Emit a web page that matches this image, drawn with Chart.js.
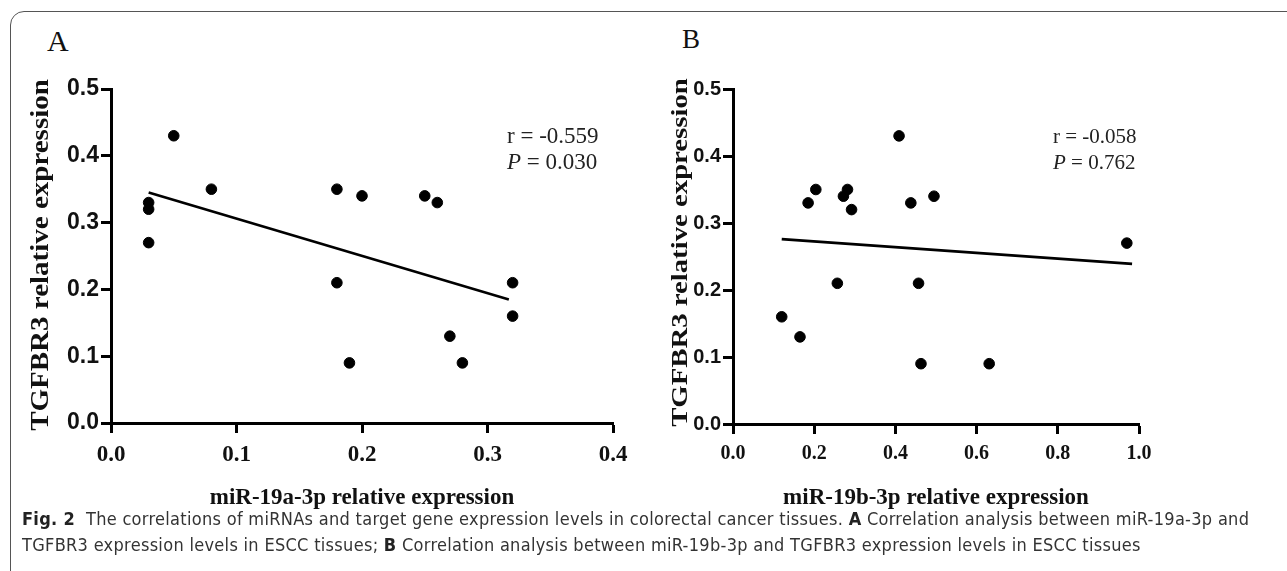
<!DOCTYPE html>
<html lang="en">
<head>
  <meta charset="UTF-8">
  <title>Fig. 2 correlations</title>
  <script src="https://cdn.jsdelivr.net/npm/chart.js"></script>
  <style>
    body { margin: 0; background: #fff; width: 1287px; height: 571px; overflow: hidden; position: relative; }
    .frame { position: absolute; left: 10px; top: 11px; right: -30px; bottom: -30px; border: 1.5px solid #555; border-radius: 14px; }
    .panel { position: absolute; top: 0; height: 512px; }
    .letter { position: absolute; font-family: "Liberation Serif", serif; color: #111; }
    .caption { position: absolute; left: 22px; top: 506px; font-family: "Liberation Sans Narrow", "DejaVu Sans Condensed", sans-serif; font-size: 18px; letter-spacing: 0.3px; line-height: 26px; color: #333; white-space: nowrap; }
    .caption b { color: #222; }
  </style>
</head>
<body>
  <div class="frame"></div>
  <div class="letter" style="left:47px; top:24px; font-size:30px;">A</div>
  <div class="letter" style="left:682px; top:24px; font-size:27px;">B</div>
  <div class="panel" style="left:0; width:640px;"><canvas id="chartA"></canvas></div>
  <div class="panel" style="left:640px; width:647px;"><canvas id="chartB"></canvas></div>
  <div class="caption">
    <b>Fig. 2</b>&nbsp; The correlations of miRNAs and target gene expression levels in colorectal cancer tissues. <b>A</b> Correlation analysis between miR-19a-3p and<br>
    TGFBR3 expression levels in ESCC tissues; <b>B</b> Correlation analysis between miR-19b-3p and TGFBR3 expression levels in ESCC tissues
  </div>

  <script>
    // panel A: miR-19a-3p vs TGFBR3
    const mirA = [0.03, 0.03, 0.03, 0.05, 0.08, 0.18, 0.18, 0.19, 0.20, 0.25, 0.26, 0.27, 0.28, 0.32, 0.32];
    const tgfA = [0.33, 0.32, 0.27, 0.43, 0.35, 0.35, 0.21, 0.09, 0.34, 0.34, 0.33, 0.13, 0.09, 0.21, 0.16];
    const fitAx = [0.03, 0.317];
    const fitAy = [0.345, 0.185];
    const statsA = ['-0.559', '0.030'];

    // panel B: miR-19b-3p vs TGFBR3
    const mirB = [0.12, 0.165, 0.185, 0.204, 0.257, 0.272, 0.282, 0.292, 0.409, 0.438, 0.457, 0.463, 0.495, 0.631, 0.97];
    const tgfB = [0.16, 0.13, 0.33, 0.35, 0.21, 0.34, 0.35, 0.32, 0.43, 0.33, 0.21, 0.09, 0.34, 0.09, 0.27];
    const fitBx = [0.12, 0.983];
    const fitBy = [0.276, 0.239];
    const statsB = ['-0.058', '0.762'];

    const yTicks = [0, 0.1, 0.2, 0.3, 0.4, 0.5];
    const yTitle = 'TGFBR3 relative expression';

    // r / P annotation in the upper right
    const statsText = {
      id: 'statsText',
      afterDraw(chart, args, opts) {
        const ctx = chart.ctx;
        ctx.save();
        ctx.fillStyle = '#222';
        ctx.textBaseline = 'middle';
        ctx.textAlign = 'left';
        const f = opts.size + 'px "Liberation Serif", serif';
        ctx.font = f;
        ctx.fillText('r = ' + opts.r, opts.x, opts.y);
        ctx.font = 'italic ' + f;
        ctx.fillText('P', opts.x, opts.y + opts.gap);
        const w = ctx.measureText('P').width;
        ctx.font = f;
        ctx.fillText(' = ' + opts.p, opts.x + w, opts.y + opts.gap);
        ctx.restore();
      }
    };

    // y title, stretched along its baseline like the original figure
    const yTitleText = {
      id: 'yTitleText',
      afterDraw(chart, args, opts) {
        const ctx = chart.ctx;
        const area = chart.chartArea;
        ctx.save();
        ctx.translate(opts.x, (area.top + area.bottom) / 2 + opts.dy);
        ctx.rotate(-Math.PI / 2);
        ctx.scale(opts.stretch, 1);
        ctx.fillStyle = '#111';
        ctx.font = 'bold ' + opts.size + 'px "Liberation Serif", serif';
        ctx.textAlign = 'center';
        ctx.textBaseline = 'middle';
        ctx.fillText(opts.text, 0, 0);
        ctx.restore();
      }
    };

    function toPoints(xs, ys) {
      return xs.map(function (x, i) { return { x: x, y: ys[i] }; });
    }

    function makeChart(id, cfg) {
      const canvas = document.getElementById(id);
      const H = 512;
      canvas.width = cfg.width;
      canvas.height = H;
      new Chart(canvas.getContext('2d'), {
        type: 'scatter',
        data: {
          datasets: [
            {
              data: toPoints(cfg.xs, cfg.ys),
              backgroundColor: '#000',
              borderColor: '#000',
              pointRadius: 5.3,
              pointHoverRadius: 5.3,
              clip: false,
            },
            {
              type: 'line',
              data: toPoints(cfg.fitX, cfg.fitY),
              borderColor: '#000',
              borderWidth: 2.6,
              pointRadius: 0,
              fill: false,
            },
          ],
        },
        options: {
          responsive: false,
          animation: false,
          layout: { padding: { left: 0, top: 89, right: cfg.width - cfg.right, bottom: 0 } },
          plugins: {
            legend: { display: false },
            tooltip: { enabled: false },
            statsText: cfg.stats,
            yTitleText: cfg.yTitle,
          },
          scales: {
            x: {
              type: 'linear',
              min: 0,
              max: cfg.xMax,
              afterBuildTicks: function (scale) {
                scale.ticks = cfg.xTicks.map(function (v) { return { value: v }; });
              },
              afterFit: function (scale) { scale.height = H - cfg.bottom; },
              border: { display: true, color: '#000', width: 3 },
              grid: { drawOnChartArea: false, drawTicks: true, tickLength: 10, tickColor: '#000', tickWidth: 3 },
              ticks: {
                color: '#111',
                padding: 8,
                maxRotation: 0,
                font: { family: '"Liberation Serif", serif', weight: 'bold', size: cfg.xTickSize },
                callback: function (v) { return v.toFixed(1); },
              },
              title: {
                display: true,
                text: cfg.xTitle,
                color: '#111',
                padding: { top: 0, bottom: 0 },
                font: { family: '"Liberation Serif", serif', weight: 'bold', size: cfg.xTitleSize },
              },
            },
            y: {
              type: 'linear',
              min: 0,
              max: 0.5,
              afterBuildTicks: function (scale) {
                scale.ticks = yTicks.map(function (v) { return { value: v }; });
              },
              afterFit: function (scale) { scale.width = cfg.left; },
              border: { display: true, color: '#000', width: 3 },
              grid: { drawOnChartArea: false, drawTicks: true, tickLength: 10, tickColor: '#000', tickWidth: 3 },
              ticks: {
                color: '#111',
                padding: 2,
                font: { family: '"Liberation Sans", Arial, sans-serif', weight: 'bold', size: cfg.yTickSize },
                callback: function (v) { return v.toFixed(1); },
              },
              title: { display: false },
            },
          },
        },
        plugins: [statsText, yTitleText],
      });
    }

    makeChart('chartA', {
      width: 640, left: 111, right: 613, bottom: 423,
      xs: mirA, ys: tgfA, fitX: fitAx, fitY: fitAy,
      xMax: 0.4, xTicks: [0, 0.1, 0.2, 0.3, 0.4],
      xTitle: 'miR-19a-3p relative expression',
      xTickSize: 23, xTitleSize: 23, yTickSize: 23,
      yTitle: { text: yTitle, x: 42, dy: -1, size: 25, stretch: 1.16 },
      stats: { r: statsA[0], p: statsA[1], x: 507, y: 137, gap: 26, size: 23 },
    });

    makeChart('chartB', {
      width: 647, left: 93, right: 499, bottom: 424,
      xs: mirB, ys: tgfB, fitX: fitBx, fitY: fitBy,
      xMax: 1.0, xTicks: [0, 0.2, 0.4, 0.6, 0.8, 1.0],
      xTitle: 'miR-19b-3p relative expression',
      xTickSize: 20, xTitleSize: 23, yTickSize: 20,
      yTitle: { text: yTitle, x: 41, dy: -4, size: 23, stretch: 1.25 },
      stats: { r: statsB[0], p: statsB[1], x: 413, y: 137, gap: 26, size: 21 },
    });
  </script>
</body>
</html>
